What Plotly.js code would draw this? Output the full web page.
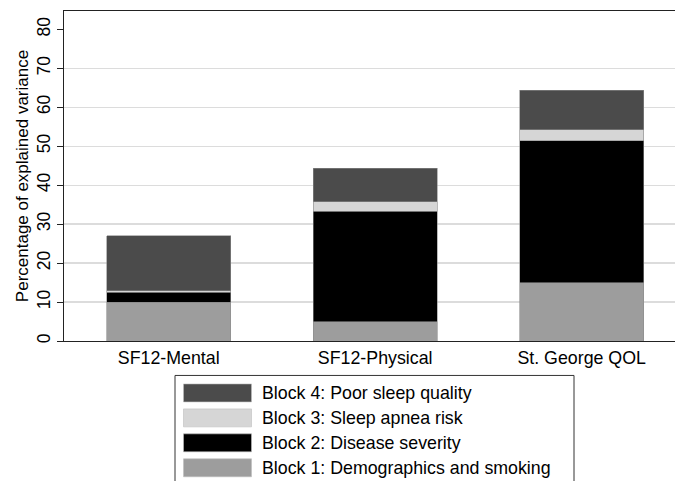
<!DOCTYPE html>
<html>
<head>
<meta charset="utf-8">
<script src="https://cdn.plot.ly/plotly-3.0.1.min.js"></script>
<style>html,body{margin:0;padding:0;background:#fff;}#chart{width:675px;height:481px;}</style>
</head>
<body>
<div id="chart"></div>
<script>
const categories = ["SF12-Mental", "SF12-Physical", "St. George QOL"];
const block1 = [10.0, 5.0, 15.0];
const block2 = [2.5, 28.3, 36.4];
const block3 = [0.4, 2.5, 2.8];
const block4 = [14.1, 8.6, 10.1];
const seriesNames = ["Block 1: Demographics and smoking", "Block 2: Disease severity", "Block 3: Sleep apnea risk", "Block 4: Poor sleep quality"];
const seriesColors = ["#9d9d9d", "#000000", "#d6d6d6", "#4b4b4b"];
const yTicks = [0, 10, 20, 30, 40, 50, 60, 70, 80];
const gridTicks = [10, 20, 30, 40, 50, 60, 70];

const seriesValues = [block1, block2, block3, block4];
const traces = seriesValues.map((vals, i) => ({
  type: "bar",
  x: categories,
  y: vals,
  name: seriesNames[i],
  width: 0.6,
  marker: {color: seriesColors[i], line: {color: "#8a8a8a", width: 0.6}},
  showlegend: false,
  hoverinfo: "skip"
}));

// plot area in pixels
const L = 64, R = 675, T = 10.5, B = 341;
const W = R - L, H = B - T;
const px = x => (x - L) / W;
const py = y => (B - y) / H;
const FONT = "Liberation Sans, Arial, Helvetica, sans-serif";

const shapes = [];
const annotations = [];
// legend box
shapes.push({type: "rect", xref: "paper", yref: "paper", x0: px(175), x1: px(574), y0: py(495), y1: py(375.5),
  line: {color: "#333", width: 1}, fillcolor: "rgba(0,0,0,0)"});
// legend order (top to bottom): block 4, 3, 2, 1
const order = [3, 2, 1, 0];
order.forEach((s, k) => {
  const cy = 393 + k * 25;
  shapes.push({type: "rect", xref: "paper", yref: "paper", x0: px(183.5), x1: px(251.5), y0: py(cy + 9), y1: py(cy - 9),
    line: {color: "#bdbdbd", width: 0.6}, fillcolor: seriesColors[s]});
  annotations.push({xref: "paper", yref: "paper", x: px(260), y: py(cy), xanchor: "left", yanchor: "middle",
    text: seriesNames[s], showarrow: false, font: {family: FONT, size: 17.8, color: "#000"}});
});

const layout = {
  width: 675, height: 481,
  margin: {l: L, r: 675 - R, t: T, b: 481 - B, pad: 0},
  paper_bgcolor: "#fff", plot_bgcolor: "#fff",
  barmode: "stack",
  bargap: 0.4,
  font: {family: FONT, size: 17, color: "#000"},
  xaxis: {type: "category", range: [-0.507, 2.452], showline: true, mirror: true, linecolor: "#222", linewidth: 1.3,
    ticks: "", showgrid: false, zeroline: false, tickfont: {size: 17.8}, fixedrange: true},
  yaxis: {range: [0, 84.7], tickvals: yTicks, ticktext: yTicks.map(String), tickangle: -90,
    ticks: "outside", ticklen: 6, tickcolor: "#222", showline: true, linecolor: "#222", linewidth: 1,
    showgrid: false, zeroline: false, tickfont: {size: 17.5}, automargin: false,
    title: {text: "Percentage of explained variance", font: {size: 17}, standoff: 1}},
  yaxis2: {overlaying: "y", range: [0, 84.7], tickvals: gridTicks, showticklabels: false, ticks: "",
    showgrid: true, gridcolor: "#dcdcdc", gridwidth: 1.3, zeroline: false, showline: false},
  shapes: shapes,
  annotations: annotations
};

const gridTrace = {type: "scatter", x: [categories[0]], y: [0], yaxis: "y2", mode: "markers",
  marker: {opacity: 0}, showlegend: false, hoverinfo: "skip"};

Plotly.newPlot("chart", [gridTrace].concat(traces), layout, {displayModeBar: false, staticPlot: true});
</script>
</body>
</html>
